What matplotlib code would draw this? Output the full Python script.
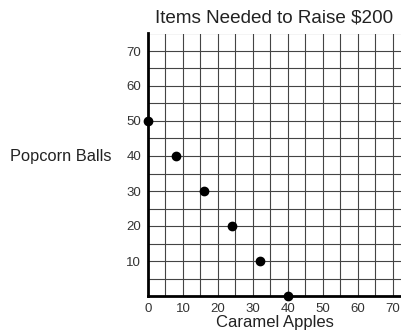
import numpy as np
import matplotlib.pyplot as plt

plt.rcParams['font.family'] = ['Liberation Sans', 'DejaVu Sans']

caramel_apples = [0, 8, 16, 24, 32, 40]
popcorn_balls = [50, 40, 30, 20, 10, 0]
x_ticks = [0, 10, 20, 30, 40, 50, 60, 70]
y_ticks = [10, 20, 30, 40, 50, 60, 70]

fig = plt.figure(figsize=(4.01, 3.31), dpi=100)
ax = fig.add_axes([148 / 401, 35 / 331, 253 / 401, 262.5 / 331])

ax.set_xlim(0, 72.3)
ax.set_ylim(0, 75)

# grid every 5 units
for v in np.arange(5, 75, 5):
    ax.axvline(v, color='#444444', lw=0.8, zorder=1)
for v in np.arange(5, 76, 5):
    ax.axhline(v, color='#444444', lw=0.8, zorder=1)

ax.plot(caramel_apples, popcorn_balls, 'o', color='black', markersize=6,
        clip_on=False, zorder=5)

for s in ['top', 'right']:
    ax.spines[s].set_visible(False)
for s in ['left', 'bottom']:
    ax.spines[s].set_linewidth(2)
    ax.spines[s].set_zorder(4)

ax.set_xticks(x_ticks)
ax.set_yticks(y_ticks)
ax.tick_params(length=0, labelsize=9.5, colors='#333333', pad=5)

ax.set_title('Items Needed to Raise $200', fontsize=13.6, pad=8, color='#222222')
ax.set_xlabel('Caramel Apples', fontsize=12, labelpad=0, color='#222222')
fig.text(10 / 401, 1 - 157 / 331, 'Popcorn Balls', fontsize=11.8, va='center',
         ha='left', color='#222222')

fig.savefig('out.png', dpi=100)
